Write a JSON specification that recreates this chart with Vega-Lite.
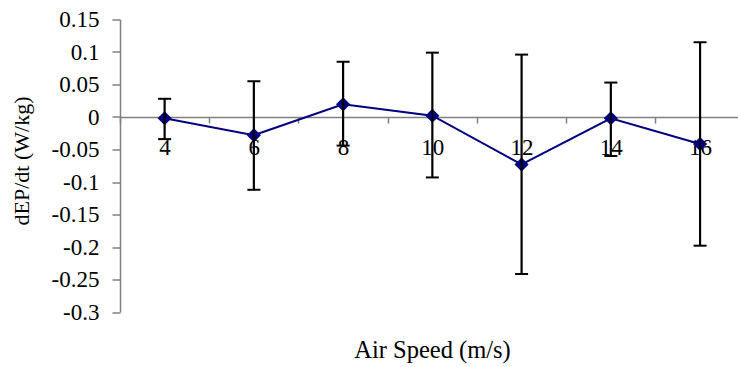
{
  "$schema": "https://vega.github.io/schema/vega-lite/v6.json",
  "autosize": "none",
  "padding": {"left": 120, "top": 19.5, "right": 0, "bottom": 55},
  "width": 618,
  "height": 292.5,
  "background": "white",
  "config": {
    "view": {"stroke": null},
    "font": "Liberation Serif",
    "axis": {"labelFont": "Liberation Serif", "titleFont": "Liberation Serif", "labelColor": "black", "titleColor": "black", "titleFontWeight": "normal"}
  },
  "data": {
    "values": [
      {"speed": 4, "mean": -0.002, "lo": -0.034, "hi": 0.028},
      {"speed": 6, "mean": -0.028, "lo": -0.112, "hi": 0.055},
      {"speed": 8, "mean": 0.0195, "lo": -0.044, "hi": 0.085},
      {"speed": 10, "mean": 0.002, "lo": -0.093, "hi": 0.099},
      {"speed": 12, "mean": -0.073, "lo": -0.2415, "hi": 0.096},
      {"speed": 14, "mean": -0.002, "lo": -0.060, "hi": 0.053},
      {"speed": 16, "mean": -0.0415, "lo": -0.198, "hi": 0.115}
    ]
  },
  "encoding": {
    "x": {
      "field": "speed",
      "type": "quantitative",
      "scale": {"domain": [3, 16.85], "nice": false, "zero": false},
      "axis": {
        "orient": "bottom",
        "offset": -195,
        "values": [3, 4, 5, 6, 7, 8, 9, 10, 11, 12, 13, 14, 15, 16],
        "labelExpr": "datum.value % 2 == 0 ? '' + datum.value : ''",
        "labelOverlap": false,
        "labelFlush": false,
        "labelFont": "Liberation Serif",
        "labelFontSize": 23,
        "labelPadding": 13,
        "labelBaseline": "top",
        "tickSize": 6,
        "tickColor": "#808080",
        "tickWidth": 1.5,
        "tickOpacity": {"condition": {"test": "datum.value % 2 == 1", "value": 1}, "value": 0},
        "domainColor": "#808080",
        "domainWidth": 1.5,
        "grid": false,
        "title": "Air Speed (m/s)",
        "titleFont": "Liberation Serif",
        "titleFontSize": 24.5,
        "titleX": 312,
        "titleY": 233,
        "titleAlign": "center",
        "titleBaseline": "middle"
      }
    },
    "y": {
      "type": "quantitative",
      "scale": {"domain": [-0.3, 0.15], "nice": false, "zero": false},
      "axis": {
        "values": [-0.3, -0.25, -0.2, -0.15, -0.1, -0.05, 0, 0.05, 0.1, 0.15],
        "labelExpr": "'' + datum.value",
        "labelFont": "Liberation Serif",
        "labelFontSize": 23,
        "labelPadding": 13,
        "labelBaseline": "middle",
        "tickSize": 8,
        "tickColor": "#808080",
        "tickWidth": 1.5,
        "domainColor": "#808080",
        "domainWidth": 1.5,
        "grid": false,
        "title": "dEP/dt (W/kg)",
        "titleFont": "Liberation Serif",
        "titleFontSize": 22,
        "titleX": -99,
        "titleY": 141,
        "titleAngle": -90,
        "titleAlign": "center",
        "titleBaseline": "middle"
      }
    }
  },
  "layer": [
    {
      "mark": {"type": "line", "color": "#000080", "strokeWidth": 2},
      "encoding": {"y": {"field": "mean", "type": "quantitative"}}
    },
    {
      "mark": {"type": "point", "shape": "diamond", "filled": true, "color": "#000080", "opacity": 1, "size": 200},
      "encoding": {"y": {"field": "mean", "type": "quantitative"}}
    },
    {
      "mark": {"type": "rule", "color": "black", "strokeWidth": 2.2},
      "encoding": {"y": {"field": "lo", "type": "quantitative"}, "y2": {"field": "hi"}}
    },
    {
      "mark": {"type": "tick", "orient": "horizontal", "color": "black", "thickness": 2, "size": 13, "opacity": 1},
      "encoding": {"y": {"field": "lo", "type": "quantitative"}}
    },
    {
      "mark": {"type": "tick", "orient": "horizontal", "color": "black", "thickness": 2, "size": 13, "opacity": 1},
      "encoding": {"y": {"field": "hi", "type": "quantitative"}}
    }
  ]
}
